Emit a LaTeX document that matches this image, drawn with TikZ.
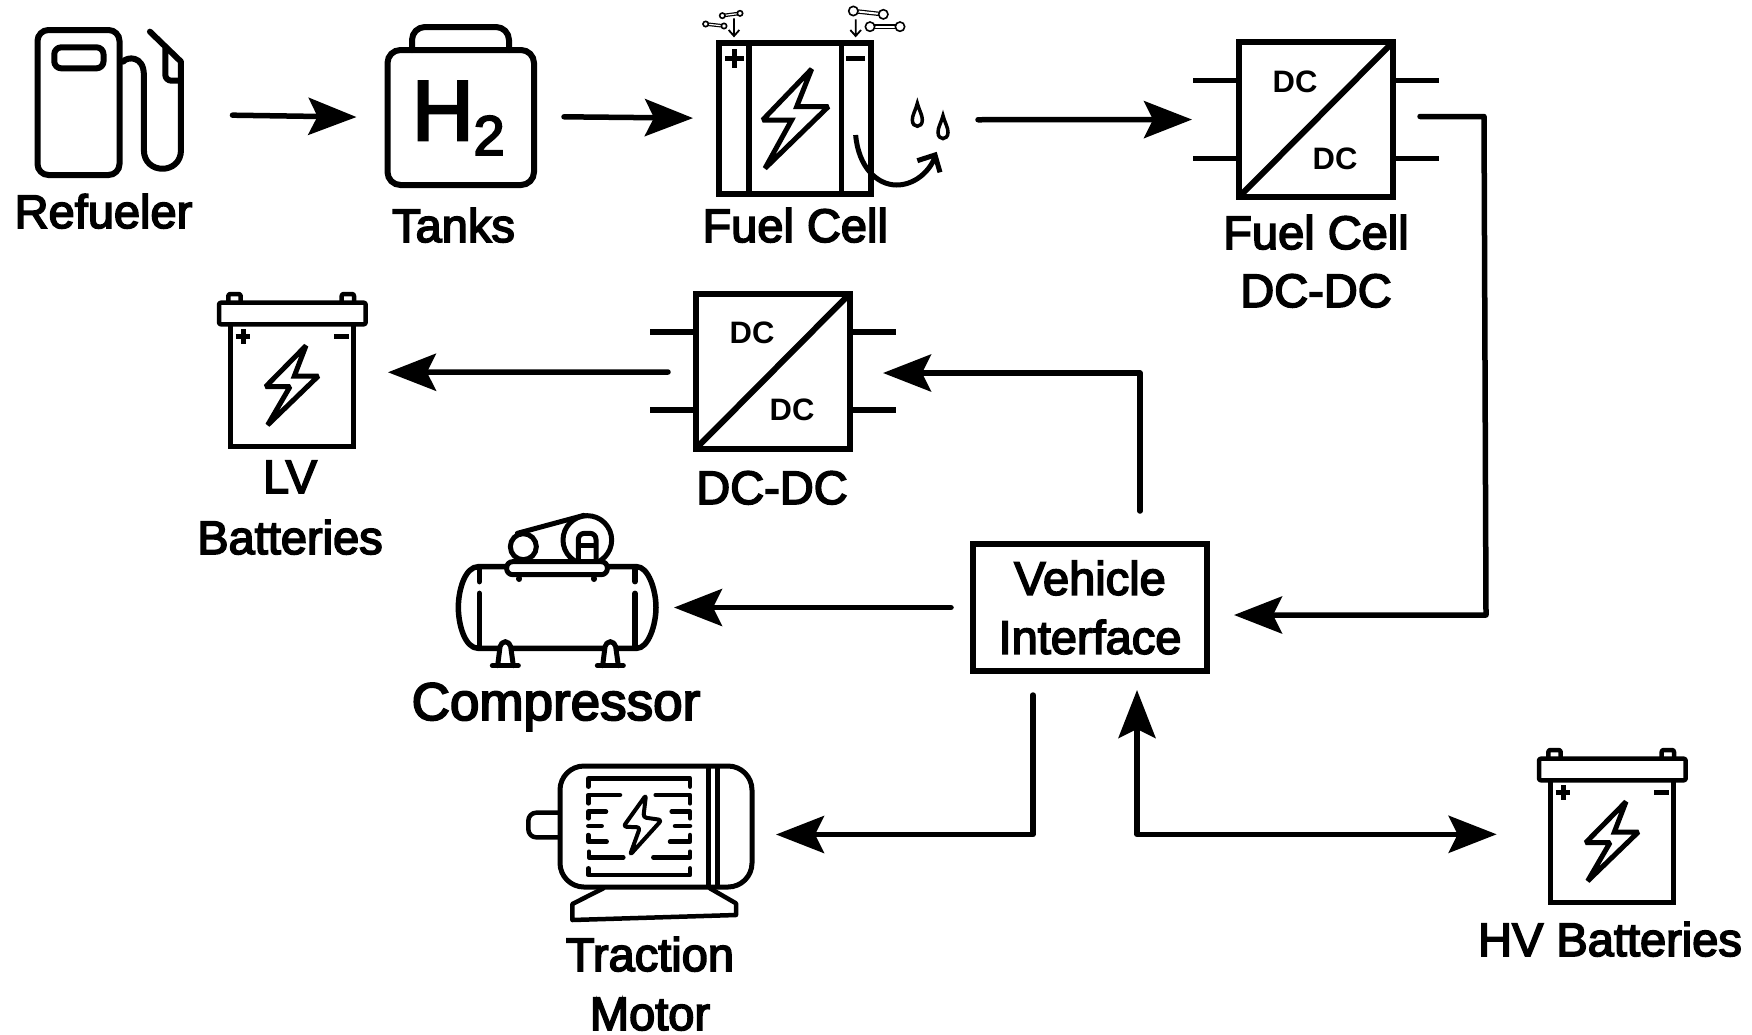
\documentclass[tikz,border=0pt]{standalone}
\usepackage{fontspec}
\setmainfont{Liberation Sans}
\newfontfamily\labf[FakeBold=3.5]{Liberation Sans}
\usetikzlibrary{arrows.meta,calc}
\tikzset{
  arr/.style={line width=5.5pt,line cap=round,line join=round,-{Stealth[length=48pt,width=37pt,inset=9pt]}},
  arrr/.style={line width=5.5pt,line cap=round,line join=round,{Stealth[length=48pt,width=37pt,inset=9pt]}-{Stealth[length=48pt,width=37pt,inset=9pt]}},
  lab/.style={font=\labf\fontsize{47}{58}\selectfont,inner sep=0pt,align=center,anchor=base},
  dcl/.style={font=\bfseries\fontsize{31}{31}\selectfont,inner sep=0pt},
  ico/.style={line width=6pt,line join=round,line cap=round},
  icot/.style={line width=4.5pt,line join=round,line cap=round},
  boxn/.style={draw,line width=6pt,inner sep=0pt,outer sep=0pt},
  ghost/.style={inner sep=0pt,outer sep=0pt},
}
\newcommand\dcconv[3]{%
  \node[boxn,minimum width=154pt,minimum height=155pt] (#1) at (#2,#3) {};
  \draw[ico,line cap=butt] (#1.south west) -- (#1.north east);
  \begin{scope}[shift={(#2,#3)}]
    \draw[line width=5.5pt] (-123,-39)--(-80,-39) (-123,39)--(-80,39) (80,-39)--(123,-39) (80,39)--(123,39);
    \node[dcl] (#1dca) at (-21,-38) {DC};
    \node[dcl] (#1dcb) at (19,39) {DC};
  \end{scope}}
\newcommand\battery[3]{%
  \node[boxn,line width=5pt,minimum width=123.3pt,minimum height=123pt] (#1) at ($(292.3,385.3)+(#2,#3)$) {};
  \begin{scope}[shift={(#2+200,#3+280)},scale=1/3]
    \draw[icot,fill=white,rounded corners=2pt] (85,68)--(85,42)--(122,42)--(122,68);
    \draw[icot,fill=white,rounded corners=2pt] (425,68)--(425,42)--(462,42)--(462,68);
    \draw[icot,fill=white,rounded corners=2pt] (57,68) rectangle (497,133);
    \draw[line width=5pt] (107,170)--(151,170) (129,148)--(129,192) (403,170)--(447,170);
    \draw[line width=5pt,line join=miter,miter limit=2] (318,197)--(197,320)--(270,320)--(203,435)--(355,288)--(283,288)--cycle;
  \end{scope}}
\newcommand\mol[6]{%
  \draw[line width=#6pt+2.4pt] (#1,#2)--(#3,#4);
  \draw[line width=#6pt,white] (#1,#2)--(#3,#4);
  \draw[line width=1.6pt,fill=white] (#1,#2) circle (#5) (#3,#4) circle (#5);}
\begin{document}
\begin{tikzpicture}[x=1pt,y=-1pt]
\useasboundingbox (0,0) rectangle (1752,1034);
\fill[white] (0,0) rectangle (1752,1034);

% Refueler
\node[boxn,rounded corners=11pt,minimum width=82pt,minimum height=145pt] (pump) at (78.5,102.5) {};
\begin{scope}[xscale=0.357,yscale=1/3]
  \draw[ico,rounded corners=7pt] (152,142) rectangle (290,205);
  \draw[ico] (345,185) .. controls (355,170) and (403,165) .. (403,225) -- (403,450) .. controls (403,525) and (507,525) .. (507,450) -- (507,185) -- (420,95);
  \draw[ico,rounded corners=6pt] (463,145) -- (463,242) -- (507,242);
\end{scope}
\node[lab] (refuelerlabel) at (103.5,228) {Refueler};

% Tanks
\node[boxn,rounded corners=13pt,minimum width=146.5pt,minimum height=135pt] (tank) at (460.75,117.5) {};
\draw[ico,rounded corners=13pt] (412,50) -- (412,27) -- (509,27) -- (509,50);
\node[inner sep=0pt,anchor=base west,font=\labf\fontsize{85}{85}\selectfont] (h2) at (412,140) {H\raisebox{-15pt}{\fontsize{56}{56}\selectfont 2}};
\node[lab] (tankslabel) at (453.5,242) {Tanks};

% Fuel cell
\node[boxn,minimum width=152pt,minimum height=151.3pt] (fc) at (795,118.35) {};
\begin{scope}[shift={(680,0)},scale=1/3]
  \draw[line width=5.5pt] (207,128)--(207,582) (484,128)--(484,582);
  \draw[line width=5.5pt] (135,175)--(191,175) (163,147)--(163,203) (499,175)--(555,175);
  \draw[line width=5pt,line join=miter,miter limit=2] (395,207)--(248,360)--(335,360)--(255,505)--(445,320)--(350,320)--cycle;
  \draw[line width=5pt] (527,405) .. controls (535,500) and (590,555) .. (650,555) .. controls (700,555) and (745,520) .. (765,472);
  \draw[line width=5pt,line join=miter] (712,482)--(765,465)--(780,517);
  \draw[line width=3.5pt] (712,310) .. controls (705,335) and (697,345) .. (697,360) .. controls (697,385) and (727,385) .. (727,360) .. controls (727,345) and (719,335) .. (712,310) -- cycle;
  \draw[line width=3.5pt] (789,347) .. controls (782,372) and (774,382) .. (774,397) .. controls (774,422) and (804,422) .. (804,397) .. controls (804,382) and (796,372) .. (789,347) -- cycle;
  \draw[line width=1.8pt] (162,55)--(162,108) (146,90)--(162,108)--(178,90);
  \draw[line width=1.8pt] (527,58)--(527,108) (511,90)--(527,108)--(543,90);
  \mol{127}{47}{180}{40}{8}{1.2}
  \mol{77}{72}{132}{78}{8}{1.2}
  \mol{520}{33}{610}{43}{14}{2}
  \mol{570}{80}{660}{80}{14}{2}
\end{scope}
\node[lab] (fclabel) at (795.2,242) {Fuel Cell};

% Converters
\dcconv{fcdc}{1316}{119.5}
\node[lab] (fcdclabel) at (1316,307) {Fuel Cell\\DC-DC};
\dcconv{dcdc}{773}{371}
\node[lab] (dcdclabel) at (772,504) {DC-DC};

% Batteries
\battery{lvbat}{0}{0}
\node[lab] (lvlabel) at (290,554) {LV\\[3pt]Batteries};
\battery{hvbat}{1320}{456}
\node[lab] (hvlabel) at (1610,956) {HV Batteries};

% Compressor
\node[ghost,minimum width=199pt,minimum height=81pt] (comp) at (557.5,607.5) {};
\begin{scope}[shift={(430,500)},scale=1/3]
  \draw[ico,line width=5pt] (280,140) circle (39);
  \draw[ico,line width=5pt] (472,120) circle (73);
  \draw[ico,line width=5pt] (262,100) -- (462,46);
  \draw[ico,line width=5pt,rounded corners=6pt,fill=white] (445,185) -- (445,100) -- (498,100) -- (498,185);
  \draw[line width=5pt] (445,135) -- (498,135);
  \draw[ico,line width=5.5pt] (230,200) -- (145,200) .. controls (105,200) and (85,270) .. (85,322) .. controls (85,375) and (105,445) .. (145,445) -- (620,445) .. controls (655,445) and (678,375) .. (678,322) .. controls (678,270) and (655,200) .. (620,200) -- (535,200);
  \draw[ico,line width=5.5pt] (148,205)--(148,245) (148,280)--(148,440) (615,205)--(615,245) (615,280)--(615,440);
  \draw[ico,line width=5pt,fill=white,rounded corners=6pt] (230,185) rectangle (532,224);
  \draw[line width=6pt,line cap=round] (268,235)--(268,237) (492,235)--(492,237);
  \draw[ico,line width=5pt,fill=white,rounded corners=5pt] (203,497) -- (212,425) -- (240,425) -- (250,497);
  \draw[ico,line width=5pt,rounded corners=0pt] (187,497)--(265,497);
  \draw[ico,line width=5pt,fill=white,rounded corners=5pt] (518,497) -- (527,425) -- (555,425) -- (565,497);
  \draw[ico,line width=5pt] (502,497)--(580,497);
\end{scope}
\node[lab,font=\labf\fontsize{53}{58}\selectfont] (complabel) at (556,720) {Compressor};

% Motor
\node[boxn,line width=5pt,rounded corners=24pt,minimum width=192pt,minimum height=121pt] (motor) at (656,826.5) {};
\begin{scope}[shift={(510,740)},scale=1/3]
  \draw[icot,rounded corners=8pt] (145,218) -- (55,218) -- (55,292) -- (145,292);
  \draw[line width=4.5pt] (595,78)--(595,440) (622,78)--(622,440);
  \draw[icot] (280,445)--(187,492)--(187,540)--(678,525)--(678,490)--(600,445);
  \draw[icot] (235,140)--(235,115)--(540,115)--(540,140);
  \draw[icot] (330,165)--(235,165)--(235,190) (437,165)--(540,165)--(540,190);
  \draw[icot] (288,215)--(235,215)--(235,235) (485,215)--(540,215)--(540,235);
  \draw[icot] (235,258)--(275,258) (495,258)--(540,258);
  \draw[icot] (235,285)--(235,305)--(290,305) (540,285)--(540,305)--(480,305);
  \draw[icot] (237,335)--(237,352)--(340,352) (540,335)--(540,352)--(430,352);
  \draw[icot] (235,385)--(235,405)--(540,405)--(540,385);
  \draw[line width=4pt,line join=round,rounded corners=3pt] (408,165)--(340,260)--(390,262)--(360,345)--(455,240)--(400,232)--cycle;
\end{scope}
\node[lab] (motorlabel) at (650,1030) {Traction\\[1pt]Motor};

% Vehicle interface
\node[boxn,line width=5.5pt,font=\labf\fontsize{47}{59}\selectfont,align=center,minimum width=234pt,minimum height=127pt] (vi) at (1090,607.5) {Vehicle\\Interface};

% Connectors
\draw[arr,shorten <=113pt,shorten >=31pt] ([yshift=-11pt]pump.east) -- (tank.west);
\draw[arr,shorten <=30pt,shorten >=26pt] ([yshift=1pt]tank.east) -- (fc.west);
\draw[arr,shorten <=107pt,shorten >=47pt] ([yshift=-1.5pt]fc.east) -- (fcdc.west);
\draw[arr,shorten <=27pt,shorten >=27pt] ([yshift=3pt]fcdc.east) -- ++(91,0) -- ++(2,498.5) -- ([yshift=-7.5pt]vi.east);
\draw[arr,shorten <=33pt,shorten >=33pt] ([xshift=50pt]vi.north) |- ([yshift=-2pt]dcdc.east);
\draw[arr,shorten <=28pt,shorten >=34pt] ([yshift=-1pt]dcdc.west) -- ([yshift=13pt]lvbat.east);
\draw[arr,shorten <=22pt,shorten >=17pt] (vi.west) -- (comp.east);
\draw[arr,shorten <=24pt,shorten >=24pt] ([xshift=-57pt]vi.south) |- ([yshift=-8pt]motor.east);
\draw[arrr,shorten <=19pt,shorten >=54pt] ([xshift=47pt]vi.south) |- ([yshift=7pt]hvbat.west);
\end{tikzpicture}
\end{document}
